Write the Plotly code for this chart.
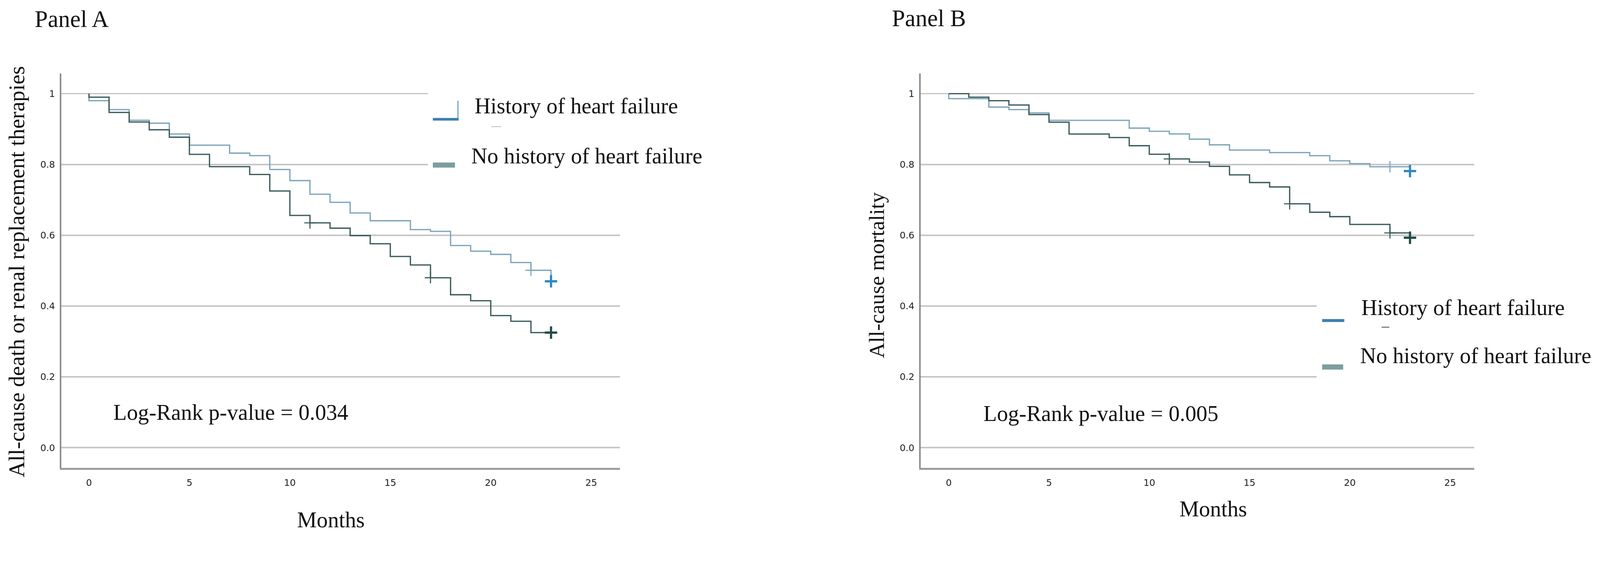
import plotly.graph_objects as go

# ---------------- data ----------------
months = list(range(0, 24))  # step times (months)

# Panel A: all-cause death or renal replacement therapies (survival level after each step)
A_hf = [0.980, 0.955, 0.925, 0.9165, 0.886, 0.8546, 0.8546, 0.832, 0.825, 0.7857,
        0.7544, 0.716, 0.693, 0.663, 0.641, 0.641, 0.616, 0.611, 0.571, 0.555,
        0.546, 0.523, 0.501, 0.470]
A_nohf = [0.990, 0.947, 0.920, 0.898, 0.877, 0.8285, 0.7937, 0.7937, 0.7717, 0.725,
          0.656, 0.635, 0.620, 0.599, 0.576, 0.540, 0.516, 0.480, 0.432, 0.415,
          0.373, 0.357, 0.325, 0.325]

# Panel B: all-cause mortality
B_hf = [0.986, 0.986, 0.962, 0.955, 0.9455, 0.9247, 0.9247, 0.9247, 0.9247, 0.9027,
        0.8937, 0.8863, 0.8715, 0.8555, 0.8407, 0.8407, 0.8336, 0.8336, 0.8247, 0.8104,
        0.8024, 0.7936, 0.7936, 0.7813]
B_nohf = [1.000, 0.990, 0.980, 0.968, 0.9409, 0.9194, 0.886, 0.886, 0.876, 0.853,
          0.8288, 0.8156, 0.8068, 0.7945, 0.7705, 0.7489, 0.7365, 0.6889, 0.665, 0.6526,
          0.6306, 0.6306, 0.6067, 0.593]

# censored marks (month, level)
A_hf_cens_t, A_hf_cens_s = [22], [0.501]
A_nohf_cens_t, A_nohf_cens_s = [11, 17], [0.635, 0.480]
B_hf_cens_t, B_hf_cens_s = [22], [0.7936]
B_nohf_cens_t, B_nohf_cens_s = [11, 17, 22], [0.8156, 0.6889, 0.6067]
end_t = 23

x_ticks = [0, 5, 10, 15, 20, 25]
y_ticks = [0.0, 0.2, 0.4, 0.6, 0.8, 1.0]
y_ticktext = ["0.0", "0.2", "0.4", "0.6", "0.8", "1"]

legend_labels = ["History of heart failure", "No history of heart failure"]
panel_titles = ["Panel A", "Panel B"]
y_titles = ["All-cause death or renal replacement therapies", "All-cause mortality"]
x_title = "Months"
pvals = ["Log-Rank p-value = 0.034", "Log-Rank p-value = 0.005"]

# ---------------- style ----------------
W, H = 4336, 1448
SERIF = "Liberation Serif, Times New Roman, serif"
HF_COL = "#7fa6bc"
NOHF_COL = "#3d5d5c"
HF_END = "#2f86c0"
NOHF_END = "#234a48"
GRID = "#c6c6c6"


def px(x):
    return x / W


def py(y):
    return 1 - y / H


fig = go.Figure()


def add_panel(xa, ya, hf, nohf, hf_ct, hf_cs, nohf_ct, nohf_cs):
    for levels, col in ((hf, HF_COL), (nohf, NOHF_COL)):
        fig.add_trace(go.Scatter(x=[0] + months, y=[1.0] + levels, mode="lines",
                                 line=dict(color=col, width=3.5, shape="hv"),
                                 xaxis=xa, yaxis=ya, hoverinfo="skip"))
    fig.add_trace(go.Scatter(x=hf_ct, y=hf_cs, mode="markers",
                             marker=dict(symbol="cross-thin", size=22, line=dict(color=HF_COL, width=3)),
                             xaxis=xa, yaxis=ya, hoverinfo="skip"))
    fig.add_trace(go.Scatter(x=nohf_ct, y=nohf_cs, mode="markers",
                             marker=dict(symbol="cross-thin", size=22, line=dict(color=NOHF_COL, width=3)),
                             xaxis=xa, yaxis=ya, hoverinfo="skip"))
    fig.add_trace(go.Scatter(x=[end_t], y=[hf[-1]], mode="markers",
                             marker=dict(symbol="cross-thin", size=24, line=dict(color=HF_END, width=6)),
                             xaxis=xa, yaxis=ya, hoverinfo="skip"))
    fig.add_trace(go.Scatter(x=[end_t], y=[nohf[-1]], mode="markers",
                             marker=dict(symbol="cross-thin", size=24, line=dict(color=NOHF_END, width=6)),
                             xaxis=xa, yaxis=ya, hoverinfo="skip"))


add_panel("x", "y", A_hf, A_nohf, A_hf_cens_t, A_hf_cens_s, A_nohf_cens_t, A_nohf_cens_s)
add_panel("x2", "y2", B_hf, B_nohf, B_hf_cens_t, B_hf_cens_s, B_nohf_cens_t, B_nohf_cens_s)

tickfont = dict(family="DejaVu Sans", size=25, color="#222222")
xaxis_common = dict(showline=True, linecolor="#9a9a9a", linewidth=5, showgrid=False,
                    zeroline=False, ticks="", tickvals=x_ticks, tickfont=tickfont,
                    ticklabelstandoff=14, fixedrange=True)
yaxis_common = dict(showline=True, linecolor="#8c8c8c", linewidth=4, showgrid=True,
                    gridcolor=GRID, gridwidth=4, zeroline=False, ticks="",
                    tickvals=y_ticks, ticktext=y_ticktext, tickfont=tickfont,
                    ticklabelstandoff=8, range=[-0.057, 1.057], fixedrange=True)

fig.update_layout(
    width=W, height=H, margin=dict(l=0, r=0, t=0, b=0),
    paper_bgcolor="white", plot_bgcolor="white", showlegend=False,
    xaxis=dict(domain=[px(166), px(1680)], range=[-1.38, 26.43], anchor="y", **xaxis_common),
    yaxis=dict(domain=[py(1267), py(199)], anchor="x", **yaxis_common),
    xaxis2=dict(domain=[px(2495), px(3995)], range=[-1.40, 26.2], anchor="y2", **xaxis_common),
    yaxis2=dict(domain=[py(1267), py(199)], anchor="x2", **yaxis_common),
)

shapes = []
# white legend backgrounds covering the gridlines
shapes.append(dict(type="rect", xref="paper", yref="paper", x0=px(1160), x1=px(1700),
                   y0=py(480), y1=py(225), fillcolor="white", line=dict(width=0), layer="above"))
shapes.append(dict(type="rect", xref="paper", yref="paper", x0=px(3568), x1=px(4010),
                   y0=py(1060), y1=py(785), fillcolor="white", line=dict(width=0), layer="above"))
# Panel A legend symbols
shapes.append(dict(type="line", xref="paper", yref="paper", x0=px(1241), x1=px(1241),
                   y0=py(326), y1=py(273), line=dict(color="#6f9fbf", width=3), layer="above"))
shapes.append(dict(type="line", xref="paper", yref="paper", x0=px(1173), x1=px(1243),
                   y0=py(323), y1=py(323), line=dict(color="#3d7fb0", width=7), layer="above"))
shapes.append(dict(type="line", xref="paper", yref="paper", x0=px(1331), x1=px(1358),
                   y0=py(343), y1=py(343), line=dict(color="#b8b8b8", width=2), layer="above"))
shapes.append(dict(type="line", xref="paper", yref="paper", x0=px(1173), x1=px(1233),
                   y0=py(447), y1=py(447), line=dict(color="#7b9e9c", width=14), layer="above"))
# Panel B legend symbols
shapes.append(dict(type="line", xref="paper", yref="paper", x0=px(3583), x1=px(3643),
                   y0=py(868), y1=py(868), line=dict(color="#3d7fb0", width=8), layer="above"))
shapes.append(dict(type="line", xref="paper", yref="paper", x0=px(3744), x1=px(3765),
                   y0=py(886), y1=py(886), line=dict(color="#444444", width=2), layer="above"))
shapes.append(dict(type="line", xref="paper", yref="paper", x0=px(3583), x1=px(3640),
                   y0=py(994), y1=py(994), line=dict(color="#7b9e9c", width=14), layer="above"))
fig.update_layout(shapes=shapes)

ann = []


def text(x, y, s, size=60, anchor="left", angle=0):
    ann.append(dict(x=px(x), y=py(y), xref="paper", yref="paper", text=s, showarrow=False,
                    xanchor=anchor, yanchor="middle", textangle=angle,
                    font=dict(family=SERIF, size=size, color="#111111")))


text(92, 52, panel_titles[0], size=64)
text(2415, 50, panel_titles[1], size=64)
text(46, 736, y_titles[0], size=60, anchor="center", angle=-90)
text(2376, 746, y_titles[1], size=58, anchor="center", angle=-90)
text(896, 1408, x_title, size=60, anchor="center")
text(3287, 1378, x_title, size=60, anchor="center")
text(305, 1117, pvals[0], size=60)
text(2663, 1120, pvals[1], size=60)
text(1284, 287, legend_labels[0], size=60)
text(1275, 423, legend_labels[1], size=60)
text(3687, 833, legend_labels[0], size=60)
text(3684, 963, legend_labels[1], size=60)
fig.update_layout(annotations=ann)

# fit the fixed-size figure into whatever CSS viewport the browser reports
post = """
var gd = document.getElementById('{plot_id}');
document.documentElement.style.margin = '0';
document.documentElement.style.overflow = 'hidden';
document.body.style.margin = '0';
document.body.style.overflow = 'hidden';
var s = Math.min(window.innerWidth / 4336, window.innerHeight / 1448);
if (s > 0 && Math.abs(s - 1) > 0.002) {
  gd.style.transformOrigin = '0 0';
  gd.style.transform = 'scale(' + s + ')';
}
"""

fig.write_html("out.html", post_script=post, config={"displayModeBar": False})
